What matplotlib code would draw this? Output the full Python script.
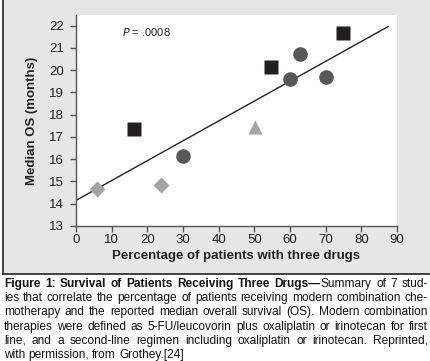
import matplotlib
matplotlib.use('Agg')
import matplotlib.pyplot as plt
from matplotlib.patches import Rectangle
from matplotlib.lines import Line2D

plt.rcParams['font.family'] = ['Liberation Sans', 'DejaVu Sans']

# data
square_x = [16.2, 54.6, 74.9]
square_y = [17.35, 20.15, 21.67]
circle_x = [30.0, 60.1, 62.8, 70.0]
circle_y = [16.15, 19.6, 20.72, 19.68]
diamond_x = [5.9, 23.9]
diamond_y = [14.68, 14.85]
triangle_x = [50.3]
triangle_y = [17.47]
fit_x = [0, 87.5]
fit_y = [14.15, 21.96]

xticks = list(range(0, 91, 10))
yticks = list(range(13, 23))

caption = [
    [[("Figure", 'bold')], [("1:", 'bold')], [("Survival", 'bold')], [("of", 'bold')],
     [("Patients", 'bold')], [("Receiving", 'bold')], [("Three", 'bold')],
     [("Drugs\u2014", 'bold'), ("Summary", 'normal')], [("of", 'normal')],
     [("7", 'normal')], [("stud-", 'normal')]],
    "ies that correlate the percentage of patients receiving modern combination che-",
    "motherapy and the reported median overall survival (OS). Modern combination",
    "therapies were defined as 5-FU/leucovorin plus oxaliplatin or irinotecan for first",
    "line, and a second-line regimen including oxaliplatin or irinotecan. Reprinted,",
    "with permission, from Grothey.[24]",
]

W, H = 430, 361
fig = plt.figure(figsize=(W / 100, H / 100), dpi=100)
fig.patch.set_facecolor('white')

# grey panel behind the chart
fig.patches.append(Rectangle((3 / W, 1 - 274 / H), 1, 274 / H, transform=fig.transFigure,
                             facecolor='#e6e6e6', edgecolor='none', zorder=-5))
fig.lines.append(Line2D([3 / W, 3 / W], [1 - 274 / H, 1], transform=fig.transFigure,
                        color='#222222', lw=1.2, zorder=-4))
fig.lines.append(Line2D([3 / W, 1], [1 - 274 / H, 1 - 274 / H], transform=fig.transFigure,
                        color='#222222', lw=1.2, zorder=-4))

ax = fig.add_axes([76 / W, 1 - 226 / H, (397 - 76) / W, (226 - 15) / H])
ax.set_zorder(1)
ax.set_facecolor('white')
ax.set_xlim(0, 90)
ax.set_ylim(13, 22.48)

ax.plot(fit_x, fit_y, color='#222222', lw=1.0, zorder=2)
ax.plot(diamond_x, diamond_y, 'D', color='#a4a4a4', ms=8, mec='none', zorder=3)
ax.plot(triangle_x, triangle_y, '^', color='#a4a4a4', ms=10, mec='none', zorder=3)
ax.plot(circle_x, circle_y, 'o', color='#58585a', ms=10.5, mec='none', zorder=3)
ax.plot(square_x, square_y, 's', color='#231f20', ms=10, mec='none', zorder=3)

ax.text(12.9, 21.72, "$P$ = .0008", fontsize=8, color='#222222', va='center')

for s in ['top', 'right']:
    ax.spines[s].set_visible(False)
for s in ['left', 'bottom']:
    ax.spines[s].set_color('#555555')
    ax.spines[s].set_linewidth(1.0)
ax.set_xticks(xticks)
ax.set_yticks(yticks)
ax.tick_params(direction='out', length=4.5, width=1, color='#555555',
               labelsize=9.5, labelcolor='#222222')
ax.tick_params(axis='x', pad=1.5)
ax.tick_params(axis='y', pad=4)
ax.set_xlabel("Percentage of patients with three drugs", fontsize=9.5,
              fontweight='bold', color='#222222', labelpad=3)
ax.set_ylabel("Median OS (months)", fontsize=9.5, fontweight='bold',
              color='#222222', labelpad=8)

# justified caption
fig.canvas.draw()
r = fig.canvas.get_renderer()
fs = 8.6


def width(s, weight):
    t = fig.text(0, 0, s, fontsize=fs, fontweight=weight)
    w = t.get_window_extent(r).width
    t.remove()
    return w


left, right = 4, 428
line_y = [284, 298.2, 312.4, 326.6, 340.8, 355]
for i, line in enumerate(caption):
    if isinstance(line, str):
        tokens = [[(w, 'normal')] for w in line.split(' ')]
    else:
        tokens = line
    widths = [sum(width(p, wt) for p, wt in tok) for tok in tokens]
    last = i == len(caption) - 1
    if last:
        gap = width('a b', 'normal') - width('ab', 'normal')
    else:
        gap = (right - left - sum(widths)) / (len(tokens) - 1)
    x = left
    for tok, tw in zip(tokens, widths):
        xx = x
        for p, wt in tok:
            fig.text(xx / W, 1 - line_y[i] / H, p, fontsize=fs, fontweight=wt,
                     color='#111111', va='center', ha='left')
            xx += width(p, wt)
        x += tw + gap

fig.savefig('out.png', dpi=100)
